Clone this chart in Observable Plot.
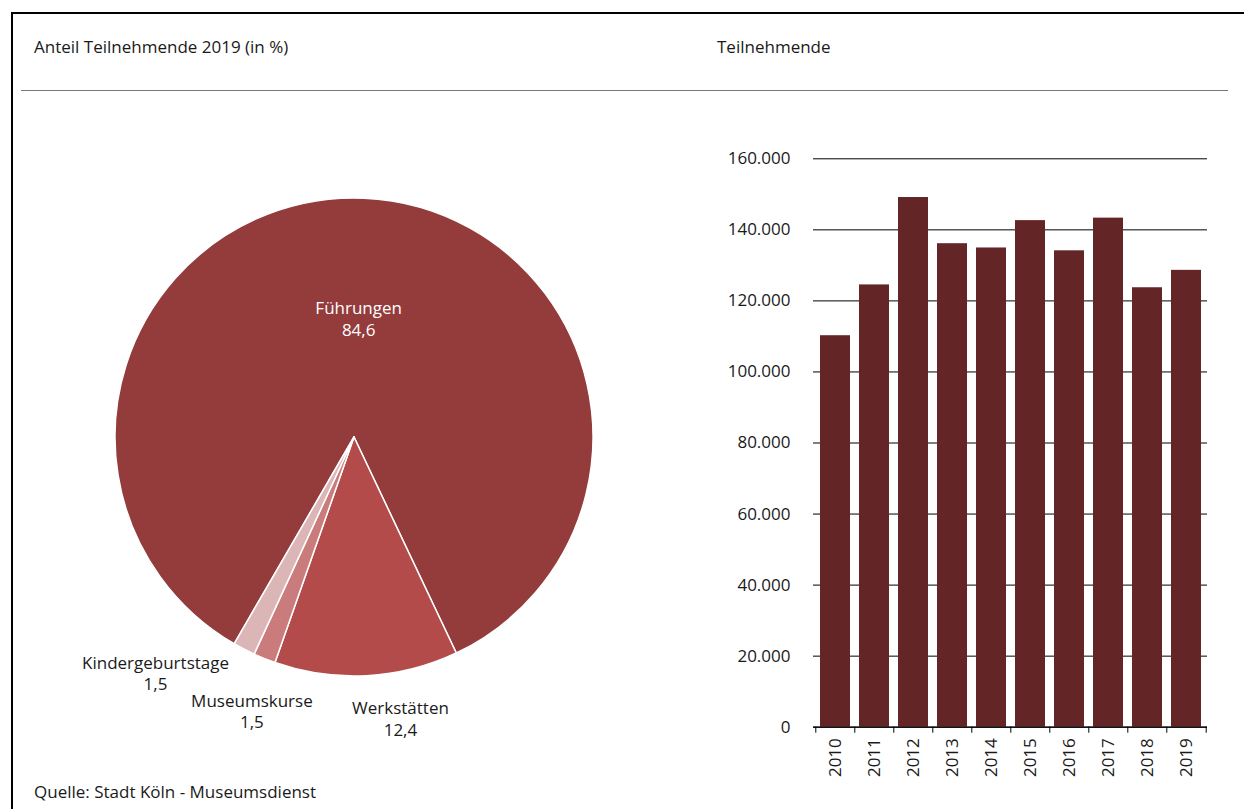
<!DOCTYPE html>
<html><head><meta charset="utf-8">
<script src="https://cdn.jsdelivr.net/npm/d3@7"></script>
<script src="https://cdn.jsdelivr.net/npm/@observablehq/plot@0.6"></script>
<style>
body{margin:0;background:#fff;font-family:"Open Sans",sans-serif;color:#1a1a1a;}
#page{position:relative;width:1244px;height:809px;overflow:hidden;}
#frame{position:absolute;left:11px;top:12px;width:1300px;height:900px;border:2px solid #000;box-sizing:border-box;}
.t{position:absolute;font-size:17px;line-height:17px;white-space:nowrap;}
#sep{position:absolute;left:21px;top:90px;width:1207px;height:1px;background:#777;}
#pie{position:absolute;left:0;top:100px;}
#bars{position:absolute;left:700px;top:100px;}
</style></head><body>
<div id="page">
<div id="frame"></div>
<div class="t" style="left:34px;top:38px">Anteil Teilnehmende 2019 (in %)</div>
<div class="t" style="left:717px;top:38px">Teilnehmende</div>
<div id="sep"></div>
<div id="pie"></div>
<div id="bars"></div>
<div class="t" style="left:34px;top:783px">Quelle: Stadt Köln - Museumsdienst</div>
</div>
<script>
// ---- data ----
const categories = ["Führungen", "Werkstätten", "Museumskurse", "Kindergeburtstage"];
const shares = [84.6, 12.4, 1.5, 1.5];
const shareLabels = ["84,6", "12,4", "1,5", "1,5"];
const sliceColors = ["#943b3c", "#b24b4a", "#c97c7b", "#dcb6b6"];
const labelColors = ["#ffffff", "#1a1a1a", "#1a1a1a", "#1a1a1a"];

const years = ["2010","2011","2012","2013","2014","2015","2016","2017","2018","2019"];
const participants = [110200, 124500, 149100, 136100, 134900, 142600, 134100, 143300, 123700, 128600];
const yTicks = [0, 20000, 40000, 60000, 80000, 100000, 120000, 140000, 160000];

// ---- layout (not data) ----
const startAngle = -149.9 * Math.PI / 180;
const labelAngleDeg = [2, 170.7, 200.6, 220.2];
const labelRadius = [0.5, 1.19, 1.22, 1.29];

const de = d3.formatLocale({decimal: ",", thousands: ".", grouping: [3], currency: ["", " €"]});
const fmt = de.format(",.0f");

// ---- pie ----
const pieLabels = categories.map((c, i) => {
  const a = labelAngleDeg[i] * Math.PI / 180;
  return {text: c + "\n" + shareLabels[i], x: labelRadius[i] * Math.sin(a), y: labelRadius[i] * Math.cos(a), color: labelColors[i]};
});

function pieMark(index, scales) {
  const cx = scales.x(0), cy = scales.y(0), R = scales.x(1) - scales.x(0);
  const arcs = d3.pie().sort(null).value(d => d).startAngle(startAngle).endAngle(startAngle + 2 * Math.PI)(shares);
  const arc = d3.arc().innerRadius(0).outerRadius(R);
  const g = d3.create("svg:g").attr("transform", `translate(${cx},${cy})`);
  g.selectAll("path").data(arcs).join("path")
    .attr("d", arc)
    .attr("fill", (d, i) => sliceColors[i])
    .attr("stroke", "#fff")
    .attr("stroke-width", 1.5)
    .attr("stroke-linejoin", "round");
  return g.node();
}

const pie = Plot.plot({
  width: 700, height: 700, margin: 0,
  style: {fontFamily: "'Open Sans', sans-serif", fontSize: "17px", background: "transparent"},
  x: {domain: [-1, 1], range: [115, 593], axis: null},
  y: {domain: [-1, 1], range: [576, 98], axis: null},
  marks: [
    pieMark,
    Plot.text(pieLabels, {x: "x", y: "y", text: "text", fill: "color", fontSize: 17, lineHeight: 1.25})
  ]
});
document.getElementById("pie").append(pie);

// ---- bars ----
const barData = years.map((y, i) => ({year: y, value: participants[i]}));
const H = 690, zeroY = 626.7, topY = 58.3;
const step = (1207 - 813) / 10;
const bars = Plot.plot({
  width: 544, height: H,
  marginLeft: 113, marginRight: 37, marginTop: topY, marginBottom: H - zeroY,
  style: {fontFamily: "'Open Sans', sans-serif", fontSize: "17px", background: "transparent", color: "#1a1a1a"},
  x: {domain: years, paddingInner: 0.24, paddingOuter: 0.12, axis: null},
  y: {domain: [0, 160000], axis: null},
  marks: [
    Plot.ruleY(yTicks, {stroke: "#000", strokeWidth: 1}),
    Plot.barY(barData, {x: "year", y: "value", fill: "#632526"}),
    Plot.ruleY([0], {stroke: "#000", strokeWidth: 1.2}),
    Plot.ruleX(years, {x: d => d, y1: 0, y2: 0, insetBottom: -6, dx: -step / 2, stroke: "#000"}),
    Plot.ruleX([years[years.length - 1]], {x: d => d, y1: 0, y2: 0, insetBottom: -6, dx: step / 2, stroke: "#000"}),
    Plot.axisY({ticks: yTicks, tickSize: 0, tickPadding: 23, tickFormat: fmt, fontSize: 17, label: null}),
    Plot.text(years, {x: d => d, y: 0, text: d => d, rotate: -90, textAnchor: "end", dy: 11, fontSize: 17})
  ]
});
document.getElementById("bars").append(bars);
</script>
</body></html>
